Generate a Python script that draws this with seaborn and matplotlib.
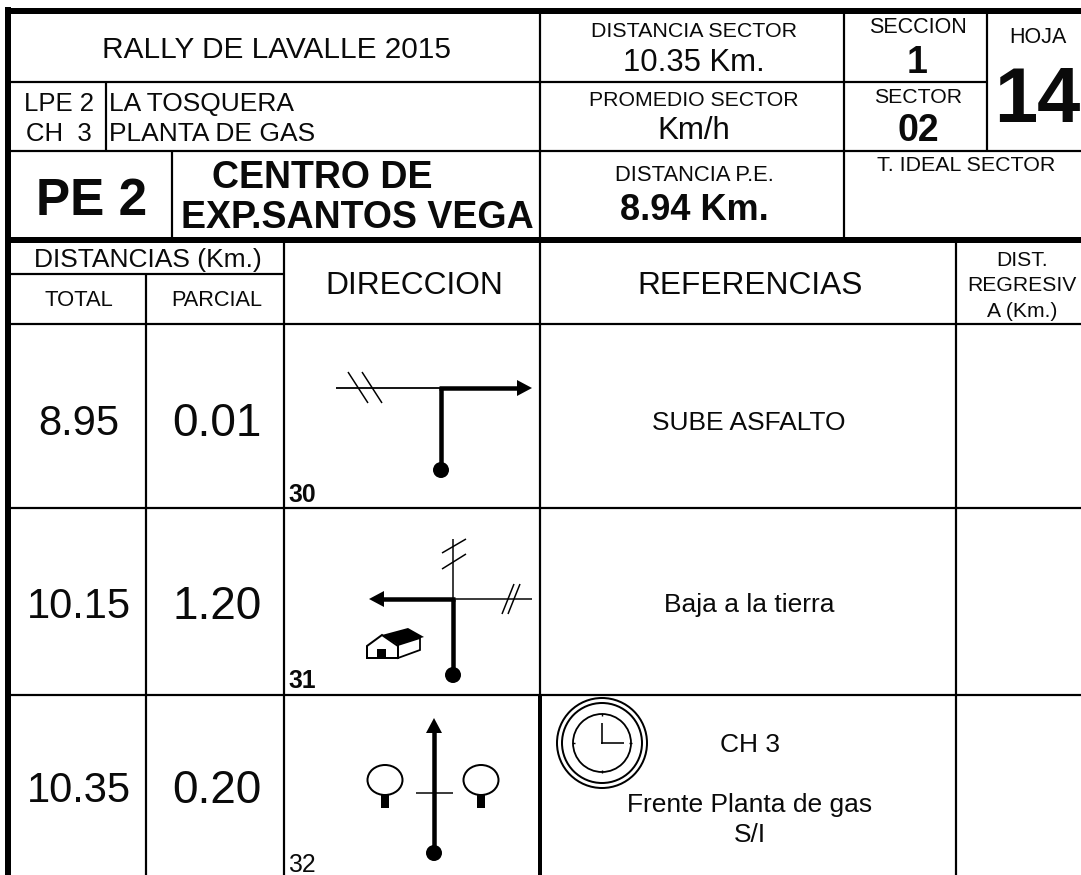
import matplotlib
matplotlib.use("Agg")
import matplotlib.pyplot as plt
from matplotlib.patches import Circle, Ellipse, Polygon, Rectangle
import seaborn as sns

# text of the sheet
titulo = "RALLY DE LAVALLE 2015"
enlace = ["LPE 2", "CH  3"]
lugares = ["LA TOSQUERA", "PLANTA DE GAS"]
prueba = "PE 2"
prueba_nombre = ["CENTRO DE", "EXP.SANTOS VEGA"]
distancia_sector = "10.35 Km."
distancia_pe = "8.94 Km."
seccion = "1"
sector = "02"
hoja = "14"
totales = ["8.95", "10.15", "10.35"]
parciales = ["0.01", "1.20", "0.20"]
numeros = ["30", "31", "32"]
referencias = ["SUBE ASFALTO", "Baja a la tierra", "Frente Planta de gas", "S/I"]

sns.set_theme(style="white")
plt.rcParams["font.family"] = ["Liberation Sans", "DejaVu Sans"]

fig = plt.figure(figsize=(10.81, 8.75), dpi=100)
ax = fig.add_axes([0, 0, 1, 1])
ax.set_xlim(0, 1081)
ax.set_ylim(875, 0)
ax.axis("off")

NEGRO = "#000000"
FINO = 2.2
GRUESO = 6


def px(w):
    return w * 0.72


def linea(x0, y0, x1, y1, w=FINO):
    ax.plot([x0, x1], [y0, y1], color=NEGRO, lw=px(w), solid_capstyle="butt", zorder=3)


def texto(x, y, s, size, bold=False, ha="center"):
    # y is the middle of the capitals
    base = y + 0.358 * size / 0.72
    ax.text(x, base, s, fontsize=size, fontweight="bold" if bold else "normal",
            ha=ha, va="baseline", color="#0a0a0a", zorder=4)


def flecha(x0, y0, x1, y1, w=4.5):
    # thick line with a triangular head, ends at (x1, y1)
    if x0 == x1:
        d = 1 if y1 > y0 else -1
        linea(x0, y0, x1, y1 - d * 14, w)
        pts = [(x1, y1), (x1 - 8, y1 - d * 15), (x1 + 8, y1 - d * 15)]
    else:
        d = 1 if x1 > x0 else -1
        linea(x0, y0, x1 - d * 14, y1, w)
        pts = [(x1, y1), (x1 - d * 15, y1 - 8), (x1 - d * 15, y1 + 8)]
    ax.add_patch(Polygon(pts, closed=True, color=NEGRO, lw=0, zorder=4))


def punto(x, y):
    ax.add_patch(Circle((x, y), 8, color=NEGRO, lw=0, zorder=4))


def arbol(x, y):
    ax.add_patch(Ellipse((x, y), 35, 30, fc="white", ec=NEGRO, lw=px(2), zorder=4))
    ax.add_patch(Rectangle((x - 4, y + 14), 8, 14, color=NEGRO, lw=0, zorder=4))


# outer frame
linea(8, 7, 8, 875, 6)
linea(5, 11, 1081, 11, 6)
linea(10, 82, 987, 82)
linea(10, 151, 1081, 151)
linea(10, 240, 1081, 240, GRUESO)
linea(10, 324, 1081, 324)
linea(10, 508, 1081, 508)
linea(10, 695, 1081, 695)
linea(10, 274, 285, 274)

# header columns
linea(106, 82, 106, 151)
linea(172, 151, 172, 240)
linea(540, 11, 540, 240)
linea(844, 11, 844, 240)
linea(987, 11, 987, 151)

# table columns
linea(146, 274, 146, 875)
linea(284, 240, 284, 875)
linea(540, 240, 540, 695)
linea(540, 695, 540, 875, 4)
linea(956, 240, 956, 875)

# header texts
texto(276, 47, titulo, 21.4)
texto(59, 102, enlace[0], 18.5)
texto(59, 132, enlace[1], 18.5)
texto(109, 102, lugares[0], 19, ha="left")
texto(109, 132, lugares[1], 19, ha="left")
texto(92, 197, prueba, 37, bold=True)
texto(322, 175, prueba_nombre[0], 27, bold=True)
texto(357, 215, prueba_nombre[1], 27, bold=True)

texto(694, 29, "DISTANCIA SECTOR", 15.4)
texto(694, 60, distancia_sector, 22.4)
texto(694, 98, "PROMEDIO SECTOR", 15.3)
texto(694, 128, "Km/h", 22.5)
texto(694, 173, "DISTANCIA P.E.", 15.8)
texto(694, 207, distancia_pe, 26, bold=True)
texto(918, 25, "SECCION", 15.5)
texto(917, 60, seccion, 27, bold=True)
texto(918, 95, "SECTOR", 15.3)
texto(918, 128, sector, 27, bold=True)
texto(1038, 35, "HOJA", 15.5)
texto(1037, 94, hoja, 56, bold=True)
texto(966, 163, "T. IDEAL SECTOR", 15.4)

texto(148, 258, "DISTANCIAS (Km.)", 19)
texto(79, 298, "TOTAL", 15.8)
texto(217, 298, "PARCIAL", 15.7)
texto(414, 283, "DIRECCION", 22.9)
texto(750, 283, "REFERENCIAS", 22.8)
texto(1022, 258, "DIST.", 15.2)
texto(1022, 283, "REGRESIV", 15.2)
texto(1022, 309, "A (Km.)", 15.2)

# rows
filas_y = [420, 603, 787]
for i, y in enumerate(filas_y):
    texto(79, y, totales[i], 30)
    texto(217, y, parciales[i], 33)
texto(749, 421, referencias[0], 19)
texto(749, 603, referencias[1], 19)
texto(750, 743, "CH 3", 19)
texto(750, 803, referencias[2], 19)
texto(750, 833, referencias[3], 19)
texto(288, 493, numeros[0], 17.8, bold=True, ha="left")
texto(288, 679, numeros[1], 17.8, bold=True, ha="left")
texto(288, 863, numeros[2], 17.8, ha="left")

# icon 30
linea(336, 388, 441, 388, 1.8)
flecha(439, 388, 532, 388)
linea(441, 388, 441, 470, 4.5)
punto(441, 470)
linea(348, 372, 368, 403, 1.5)
linea(362, 372, 382, 403, 1.5)

# icon 31
linea(453, 599, 453, 675, 4.5)
punto(453, 675)
linea(453, 599, 453, 539, 1.5)
linea(442, 553, 466, 539, 1.5)
linea(442, 569, 466, 554, 1.5)
linea(453, 599, 532, 599, 1.5)
linea(502, 614, 514, 584, 1.5)
linea(508, 614, 520, 584, 1.5)
flecha(455, 599, 369, 599)
# house
ax.add_patch(Polygon([(382, 635), (408, 628), (424, 637), (398, 645)],
                     closed=True, color=NEGRO, lw=0, zorder=4))
ax.add_patch(Polygon([(367, 658), (367, 646), (382, 635), (398, 646), (398, 658)],
                     closed=True, fc="white", ec=NEGRO, lw=px(2), zorder=5))
ax.add_patch(Polygon([(398, 645), (420, 638), (420, 650), (398, 658)],
                     closed=True, fc="white", ec=NEGRO, lw=px(1.8), zorder=4))
ax.add_patch(Rectangle((377, 649), 9, 9, color=NEGRO, lw=0, zorder=6))

# icon 32
flecha(434, 853, 434, 718)
punto(434, 853)
linea(416, 793, 453, 793, 1.5)
arbol(385, 780)
arbol(481, 780)

# clock
for r, w in [(45, 2), (40, 2), (29, 1.8)]:
    ax.add_patch(Circle((602, 743), r, fc="none", ec=NEGRO, lw=px(w), zorder=4))
linea(602, 744, 602, 723, 1.6)
linea(601, 743, 624, 743, 1.6)
for dx, dy in [(0, -29), (0, 29), (-29, 0), (29, 0)]:
    linea(602 + dx * 1.05, 743 + dy * 1.05, 602 + dx * 0.93, 743 + dy * 0.93, 1.4)

sns.despine(ax=ax, left=True, bottom=True)
plt.savefig("out.png", dpi=100)
